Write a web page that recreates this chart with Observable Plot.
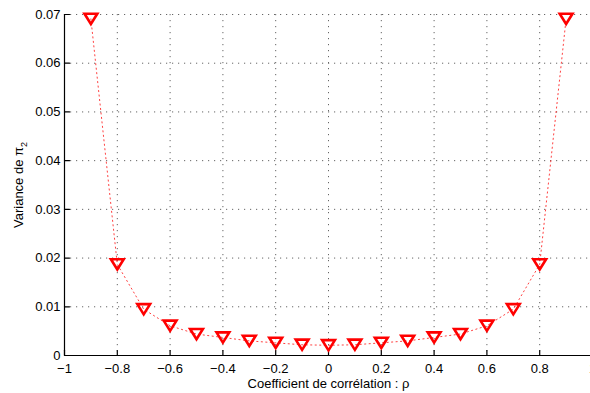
<!DOCTYPE html>
<html>
<head>
<meta charset="utf-8">
<script src="https://cdn.jsdelivr.net/npm/d3@7"></script>
<script src="https://cdn.jsdelivr.net/npm/@observablehq/plot@0.6"></script>
<style>
  body { margin: 0; background: #fff; }
  svg { display: block; }
</style>
</head>
<body>
<div id="chart"></div>
<script>
// Correlation coefficient values and the variance of pi_2 at each one
const rho = [-0.9, -0.8, -0.7, -0.6, -0.5, -0.4, -0.3, -0.2, -0.1, 0, 0.1, 0.2, 0.3, 0.4, 0.5, 0.6, 0.7, 0.8, 0.9];
const variance = [0.0691, 0.0187, 0.0095, 0.0061, 0.0044, 0.0037, 0.0030, 0.0026, 0.0022, 0.0021, 0.0022, 0.0026, 0.0030, 0.0037, 0.0044, 0.0061, 0.0095, 0.0187, 0.0691];

// Axis ticks and their labels
const xTicks = [-1, -0.8, -0.6, -0.4, -0.2, 0, 0.2, 0.4, 0.6, 0.8, 1];
const xTickLabels = ["−1", "−0.8", "−0.6", "−0.4", "−0.2", "0", "0.2", "0.4", "0.6", "0.8", "1"];
const yTicks = [0, 0.01, 0.02, 0.03, 0.04, 0.05, 0.06, 0.07];
const yTickLabels = ["0", "0.01", "0.02", "0.03", "0.04", "0.05", "0.06", "0.07"];

const xDomain = [-1, 1];
const yDomain = [0, 0.07];
const xLabel = "Coefficient de corrélation : ρ";
const yLabel = "Variance de π";
const yLabelSubscript = "2";

const data = rho.map((r, i) => ({rho: r, v: variance[i]}));

// Downward-pointing triangle, centred on its bounding box
const triangleDown = {
  draw(context, size) {
    const r = Math.sqrt(size / Math.PI);
    const h = r * 0.8;
    context.moveTo(-r, -h);
    context.lineTo(r, -h);
    context.lineTo(0, h);
    context.closePath();
  }
};

// Plain straight segment used for the inward tick marks
const tickShape = {
  draw(context, length) {
    context.moveTo(0, 0);
    context.lineTo(0, -length);
  }
};

const font = "'Liberation Sans', Arial, Helvetica, sans-serif";
const gridStyle = {stroke: "#666", strokeOpacity: 1, strokeWidth: 1, strokeDasharray: "1.2,4.8"};

const chart = Plot.plot({
  width: 590,
  height: 393,
  marginLeft: 64,
  marginRight: -2,
  marginTop: 14,
  marginBottom: 38,
  style: {fontFamily: font, fontSize: "13px", color: "#000", background: "#fff", overflow: "visible"},
  x: {domain: xDomain},
  y: {domain: yDomain},
  marks: [
    // dotted grid
    Plot.gridX(xTicks, gridStyle),
    Plot.gridY(yTicks, gridStyle),
    // axis lines
    Plot.ruleX([xDomain[0]], {stroke: "#000", strokeWidth: 1.2}),
    Plot.ruleY([yDomain[0]], {stroke: "#000", strokeWidth: 1.2}),
    // inward tick marks
    Plot.vector(xTicks, {x: d => d, frameAnchor: "bottom", length: 5, rotate: 0, anchor: "start", shape: tickShape, stroke: "#000", strokeWidth: 1.2}),
    Plot.vector(yTicks, {y: d => d, frameAnchor: "left", length: 5, rotate: 90, anchor: "start", shape: tickShape, stroke: "#000", strokeWidth: 1.2}),
    // tick labels
    Plot.axisX({ticks: xTicks, tickSize: 0, tickPadding: 8, fontSize: 13, label: null,
      tickFormat: d => xTickLabels[xTicks.indexOf(d)]}),
    Plot.axisY({ticks: yTicks, tickSize: 0, tickPadding: 4, fontSize: 13, label: null,
      tickFormat: d => yTickLabels[yTicks.indexOf(d)]}),
    // axis titles
    Plot.text([xLabel], {frameAnchor: "bottom", textAnchor: "middle", lineAnchor: "bottom", dy: 32, fontSize: 13, fill: "#000"}),
    Plot.text([yLabel], {frameAnchor: "left", textAnchor: "middle", lineAnchor: "bottom", rotate: -90, dx: -42, fontSize: 13, fill: "#000"}),
    // dotted connecting line and triangle markers
    Plot.line(data, {x: "rho", y: "v", stroke: "red", strokeOpacity: 0.75, strokeWidth: 1, strokeDasharray: "1.2,3.3"}),
    Plot.dot(data, {x: "rho", y: "v", symbol: triangleDown, r: 6.4, stroke: "red", strokeWidth: 2.6, fill: "none", strokeLinejoin: "miter"})
  ]
});

// Add the subscript to the y-axis title
for (const t of chart.querySelectorAll("text")) {
  if (t.textContent === yLabel) {
    const sub = document.createElementNS("http://www.w3.org/2000/svg", "tspan");
    sub.setAttribute("dy", "4");
    sub.setAttribute("font-size", "9");
    sub.textContent = yLabelSubscript;
    t.appendChild(sub);
  }
}

document.getElementById("chart").appendChild(chart);
</script>
</body>
</html>
